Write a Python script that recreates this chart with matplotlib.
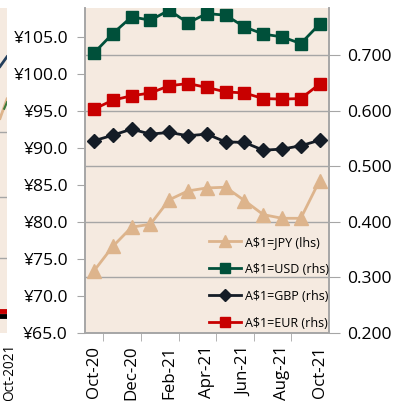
import matplotlib
matplotlib.use("Agg")
import matplotlib.pyplot as plt
from matplotlib.ticker import FuncFormatter, FixedLocator

plt.rcParams['font.family'] = ['Open Sans', 'DejaVu Sans']

months = ['Oct-20', 'Nov-20', 'Dec-20', 'Jan-21', 'Feb-21', 'Mar-21', 'Apr-21',
          'May-21', 'Jun-21', 'Jul-21', 'Aug-21', 'Sep-21', 'Oct-21']
jpy = [73.4, 76.7, 79.3, 79.7, 83.0, 84.2, 84.6, 84.7, 82.9, 81.0, 80.5, 80.5, 85.6]
usd = [0.704, 0.739, 0.769, 0.763, 0.781, 0.758, 0.775, 0.772, 0.751, 0.738, 0.733, 0.721, 0.756]
gbp = [0.546, 0.556, 0.567, 0.558, 0.561, 0.555, 0.558, 0.544, 0.543, 0.529, 0.531, 0.537, 0.547]
eur = [0.603, 0.619, 0.627, 0.632, 0.645, 0.649, 0.642, 0.634, 0.632, 0.622, 0.621, 0.622, 0.648]

left_ticks = [65, 70, 75, 80, 85, 90, 95, 100, 105]
right_ticks = [0.2, 0.3, 0.4, 0.5, 0.6, 0.7]

# sliver of the neighbouring chart (cropped on the left)
sliver_x = [0.0, 1.0]
sliver_blue = [0.82, 0.85]
sliver_tan = [0.66, 0.72]
sliver_green = [0.69, 0.71]
sliver_red = [0.068, 0.068]
sliver_black = [0.052, 0.052]
sliver_grid = [0.231, 0.418, 0.618]

BG = '#F5EAE0'
GRID = '#A6A6A6'
C_JPY = '#DDB48C'
C_USD = '#00503A'
C_GBP = '#141C26'
C_EUR = '#C80000'
FS = 12.6

fig = plt.figure(figsize=(4.04, 4.01), dpi=100)

# ---- sliver axes ----
ax0 = fig.add_axes([0.0, 0.1696, 7 / 404, 0.8105])
ax0.set_facecolor(BG)
ax0.set_xlim(0, 1)
ax0.set_ylim(0, 1)
for s in ax0.spines.values():
    s.set_visible(False)
ax0.set_yticks(sliver_grid)
ax0.yaxis.grid(True, color=GRID, lw=1)
ax0.tick_params(left=False, labelleft=False, bottom=False, labelbottom=False)
ax0.set_xticks([])
ax0.plot(sliver_x, sliver_blue, color='#243F5C', lw=2)
ax0.plot(sliver_x, sliver_tan, color=C_JPY, lw=2)
ax0.plot([0.6, 1.0], sliver_green, color='#3C7A3C', lw=1.5)
ax0.plot(sliver_x, sliver_red, color=C_EUR, lw=3.5)
ax0.plot(sliver_x, sliver_black, color='black', lw=3.5)
fig.text(9.5 / 404, 1 - 344 / 401, 'Oct-2021', rotation=90, ha='center', va='top', fontsize=9.8)

# ---- main axes ----
ax = fig.add_axes([84.6 / 404, 1 - 333 / 401, (329 - 84.6) / 404, (333 - 8) / 401])
ax.set_facecolor(BG)
ax2 = ax.twinx()

x = list(range(len(months)))
lj, = ax.plot(x, jpy, color=C_JPY, lw=2, marker='^', ms=10, label='A$1=JPY (lhs)')
lu, = ax2.plot(x, usd, color=C_USD, lw=2, marker='s', ms=9, label='A$1=USD (rhs)')
lg, = ax2.plot(x, gbp, color=C_GBP, lw=2, marker='D', ms=7.5, label='A$1=GBP (rhs)')
le, = ax2.plot(x, eur, color=C_EUR, lw=2, marker='s', ms=9, label='A$1=EUR (rhs)')

ax.set_xlim(-0.5, 12.5)
ax.set_ylim(65, 65 + 325 / 7.4)
ax2.set_ylim(0.2, 0.2 + 325 / 555.6)

ax.set_yticks(left_ticks)
ax.yaxis.set_major_formatter(FuncFormatter(lambda v, p: '¥{:.1f}'.format(v)))
ax2.set_yticks(right_ticks)
ax2.yaxis.set_major_formatter(FuncFormatter(lambda v, p: '{:.3f}'.format(v)))
ax2.yaxis.grid(True, color=GRID, lw=1)
ax2.set_axisbelow(True)

ax.set_xticks(x[::2])
ax.set_xticklabels(months[::2], rotation=90, fontsize=12.2)
ax.xaxis.set_minor_locator(FixedLocator([i - 0.5 for i in range(1, 13, 2)]))
ax.tick_params(axis='x', which='major', length=0, pad=9)
ax.tick_params(axis='x', which='minor', length=6, color=GRID, direction='out')
ax.tick_params(axis='y', length=6, color=GRID, labelsize=FS, pad=6)
ax2.tick_params(axis='y', length=8, color=GRID, labelsize=FS, pad=5)

for a in (ax, ax2):
    a.spines['top'].set_visible(False)
    for k in ('left', 'right', 'bottom'):
        a.spines[k].set_color(GRID)
        a.spines[k].set_linewidth(1.2)

ax.set_zorder(ax2.get_zorder() + 1)
ax.patch.set_visible(False)
ax2.patch.set_visible(True)
ax2.patch.set_facecolor(BG)

leg = ax.legend(handles=[lj, lu, lg, le], loc='lower right', frameon=False,
                fontsize=9, markerscale=0.8, handlelength=2.6, handletextpad=0.3,
                labelspacing=1.12, borderaxespad=0.0, bbox_to_anchor=(1.02, -0.005))

fig.savefig('out.png', dpi=100)
